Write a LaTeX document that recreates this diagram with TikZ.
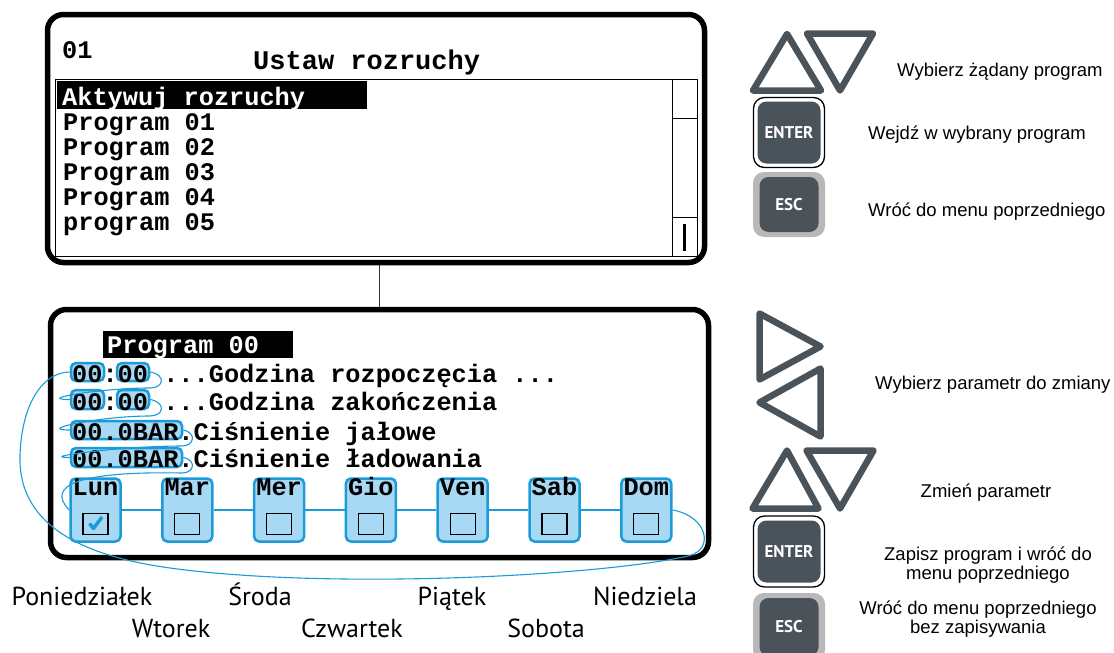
\documentclass[tikz,border=0pt]{standalone}
\usepackage{fontspec}
\setmainfont{Liberation Sans}
\newfontfamily\lcdfont{Liberation Mono}
\newfontfamily\dayfont{PT Sans}
\usetikzlibrary{positioning}

\definecolor{lcdblue}{RGB}{27,155,216}
\definecolor{lcdfill}{RGB}{167,217,244}
\definecolor{keygray}{RGB}{75,83,90}
\definecolor{escgray}{RGB}{184,184,184}

\tikzstyle{screen} = [draw, line width=5.5pt, rounded corners=16pt, inner sep=0pt]
\tikzstyle{lcd} = [font=\lcdfont\bfseries\fontsize{25.3}{25}\selectfont, inner sep=0pt, anchor=base west]
\tikzstyle{selbar} = [fill=black, inner sep=0pt, anchor=north west]
\tikzstyle{numbox} = [draw=lcdblue, fill=lcdfill, line width=2.5pt, rounded corners=5pt, inner sep=0pt]
\tikzstyle{daybox} = [numbox, minimum width=50pt, minimum height=63pt]
\tikzstyle{chkbox} = [draw, line width=1.2pt, minimum width=25pt, minimum height=21pt, inner sep=0pt]
\tikzstyle{flow} = [draw=lcdblue, line width=1.1pt]
\tikzstyle{arrowkey} = [draw=keygray, line width=6.5pt, line join=round]
\tikzstyle{keyframe} = [draw=black, fill=white, line width=1.3pt, rounded corners=11pt, minimum width=71pt, minimum height=70pt]
\tikzstyle{escframe} = [fill=escgray, rounded corners=11pt, minimum width=72pt, minimum height=65pt]
\tikzstyle{keycap} = [fill=keygray, rounded corners=9pt, minimum width=63pt, minimum height=62pt, text=white, font=\dayfont\bfseries\fontsize{17}{17}\selectfont]
\tikzstyle{hint} = [font=\fontsize{18.5}{16.5}\selectfont, inner sep=0pt, align=center]
\tikzstyle{dayname} = [font=\dayfont\fontsize{26}{26}\selectfont, inner sep=0pt, anchor=base]

\begin{document}
\begin{tikzpicture}[x=1pt, y=-1pt]
	\useasboundingbox (0,0) rectangle (1114,653);

	% Anzeige oben
	\node[screen, minimum width=657pt, minimum height=248pt] (menu) at (376,138.5) {};
	\node[lcd] (nr) at (62,58) {01};
	\node[lcd, font=\lcdfont\bfseries\fontsize{27}{27}\selectfont] (title) at (253,69) {Ustaw rozruchy};
	\node[draw, line width=1.2pt, inner sep=0pt, anchor=north west, minimum width=642pt, minimum height=177pt] (list) at (55,79) {};
	\draw[line width=1pt] (672,79) -- (672,256); % Scrollbalken
	\draw[line width=1pt] (672,118) -- (697,118);
	\draw[line width=1pt] (672,217) -- (697,217);
	\draw[line width=3pt] (684.5,224) -- (684.5,251);
	\node[selbar, minimum width=310pt, minimum height=28pt] (sel) at (57,81) {};
	\node[lcd, text=white] (akt) at (62,105) {Aktywuj rozruchy};
	\node[lcd] (p1) at (63,130.5) {Program 01};
	\node[lcd] (p2) at (63,155.5) {Program 02};
	\node[lcd] (p3) at (63,180.5) {Program 03};
	\node[lcd] (p4) at (63,205.5) {Program 04};
	\node[lcd] (p5) at (63,230.5) {program 05};

	% Anzeige unten
	\node[screen, minimum width=658pt, minimum height=248pt] (prog) at (379.5,433.5) {};
	\draw[line width=0.8pt, black!80] (prog.north) -- (prog.north |- menu.south);
	\node[selbar, minimum width=190pt, minimum height=27pt] (selprog) at (103,331) {};
	\node[lcd, text=white] (pname) at (107,353.5) {Program 00};

	\node[numbox, minimum width=33pt, minimum height=18pt] (h1) at (87.5,372) {};
	\node[numbox, minimum width=32pt, minimum height=18pt] (m1) at (133,372) {};
	\node[numbox, minimum width=33pt, minimum height=19pt] (h2) at (87.5,399.5) {};
	\node[numbox, minimum width=32pt, minimum height=19pt] (m2) at (133,399.5) {};
	\node[numbox, minimum width=111pt, minimum height=18pt] (b3) at (126.5,430) {};
	\node[numbox, minimum width=111pt, minimum height=19pt] (b4) at (126.5,457.5) {};

	\node[lcd] (t1) at (72,382) {00:00 ...Godzina rozpoczęcia ...};
	\node[lcd] (t2) at (72,410) {00:00 ...Godzina zakończenia};
	\node[lcd] (t3) at (72,440) {00.0BAR.Ciśnienie jałowe};
	\node[lcd] (t4) at (72,467) {00.0BAR.Ciśnienie ładowania};

	% Wochentage
	\node[daybox] (lun) at (95.5,510) {};
	\node[daybox] (mar) at (187.3,510) {};
	\node[daybox] (mer) at (279.1,510) {};
	\node[daybox] (gio) at (370.9,510) {};
	\node[daybox] (ven) at (462.7,510) {};
	\node[daybox] (sab) at (554.5,510) {};
	\node[daybox] (dom) at (646.3,510) {};
	\draw[flow] (lun.east) -- (mar.west) (mar.east) -- (mer.west) (mer.east) -- (gio.west)
		(gio.east) -- (ven.west) (ven.east) -- (sab.west) (sab.east) -- (dom.west);

	\node[lcd, anchor=base] (lunt) at (95.5,495) {Lun};
	\node[lcd, anchor=base] (mart) at (187.3,495) {Mar};
	\node[lcd, anchor=base] (mert) at (279.1,495) {Mer};
	\node[lcd, anchor=base] (giot) at (370.9,495) {Gio};
	\node[lcd, anchor=base] (vent) at (462.7,495) {Ven};
	\node[lcd, anchor=base] (sabt) at (554.5,495) {Sab};
	\node[lcd, anchor=base] (domt) at (646.3,495) {Dom};

	\node[chkbox] (lunc) at (95.5,524) {};
	\node[chkbox] (marc) at (187.3,524) {};
	\node[chkbox] (merc) at (279.1,524) {};
	\node[chkbox] (gioc) at (370.9,524) {};
	\node[chkbox] (venc) at (462.7,524) {};
	\node[chkbox] (sabc) at (554.5,524) {};
	\node[chkbox] (domc) at (646.3,524) {};
	\draw[lcdblue, line width=3.5pt, line join=round] (89.5,523.5) -- (93.5,528.5) -- (102,517); % Haken

	% Schleifen
	\draw[flow] (m1.east) .. controls +(16,3) and +(14,0) .. (150,388) .. controls +(-50,0) and +(-35,0) .. (h2.west);
	\draw[flow] (m2.east) .. controls +(16,3) and +(14,0) .. (150,416) .. controls +(-50,0) and +(-35,0) .. (b3.west);
	\draw[flow] (b3.east) .. controls +(14,3) and +(12,0) .. (182,446) .. controls +(-60,0) and +(-35,0) .. (b4.west);
	\draw[flow] (b4.east) .. controls +(14,3) and +(12,0) .. (182,473) .. controls (80,471) and (45,485) .. (lun.west);
	\draw[flow] (dom.east) .. controls +(35,6) and (715,550) .. (688,556) .. controls (600,576) and (330,590) .. (170,568)
		.. controls (60,553) and (18,512) .. (20,455) .. controls (22,400) and (45,372) .. (h1.west);

	% Tagesnamen
	\node[dayname] (pon) at (82,605) {Poniedziałek};
	\node[dayname] (sro) at (260,605) {Środa};
	\node[dayname] (pia) at (452,605) {Piątek};
	\node[dayname] (nie) at (645,605) {Niedziela};
	\node[dayname] (wto) at (171,637) {Wtorek};
	\node[dayname] (czw) at (352,637) {Czwartek};
	\node[dayname] (sob) at (546,637) {Sobota};

	% Tasten oben
	\draw[arrowkey] (787,34) -- (753,90.5) -- (821,90.5) -- cycle;
	\draw[arrowkey] (807,33.5) -- (873,33.5) -- (840,90.5) -- cycle;
	\node[keyframe] (enterA) at (789,132.5) {};
	\node[keycap] (enterAc) at (enterA) {ENTER};
	\node[escframe] (escA) at (789,204.5) {};
	\node[keycap, minimum width=59pt, minimum height=55pt] (escAc) at (escA) {ESC};
	\node[hint, anchor=base west] (hA) at (897,76.5) {Wybierz żądany program};
	\node[hint, anchor=base west] (hB) at (868,139) {Wejdź w wybrany program};
	\node[hint, anchor=base west] (hC) at (868,216) {Wróć do menu poprzedniego};

	% Tasten unten
	\draw[arrowkey] (759.5,313.5) -- (759.5,379.5) -- (820.5,346.5) -- cycle;
	\draw[arrowkey] (820.5,368.5) -- (820.5,436.5) -- (759.5,402.5) -- cycle;
	\draw[arrowkey] (787,450.5) -- (752.5,508.5) -- (818.5,508.5) -- cycle;
	\draw[arrowkey] (806.5,450.5) -- (873.5,450.5) -- (840,508.5) -- cycle;
	\node[keyframe, minimum height=71pt] (enterB) at (789,551.5) {};
	\node[keycap] (enterBc) at (enterB) {ENTER};
	\node[escframe, minimum height=68pt] (escB) at (789,627) {};
	\node[keycap, minimum width=59pt, minimum height=58pt] (escBc) at (escB) {ESC};
	\node[hint, anchor=base west] (hD) at (875,389) {Wybierz parametr do zmiany};
	\node[hint, anchor=base] (hE) at (986,497) {Zmień parametr};
	\node[hint] (hF) at (988,565) {Zapisz program i wróć do\\menu poprzedniego};
	\node[hint] (hG) at (978,619) {Wróć do menu poprzedniego\\bez zapisywania};
\end{tikzpicture}
\end{document}
